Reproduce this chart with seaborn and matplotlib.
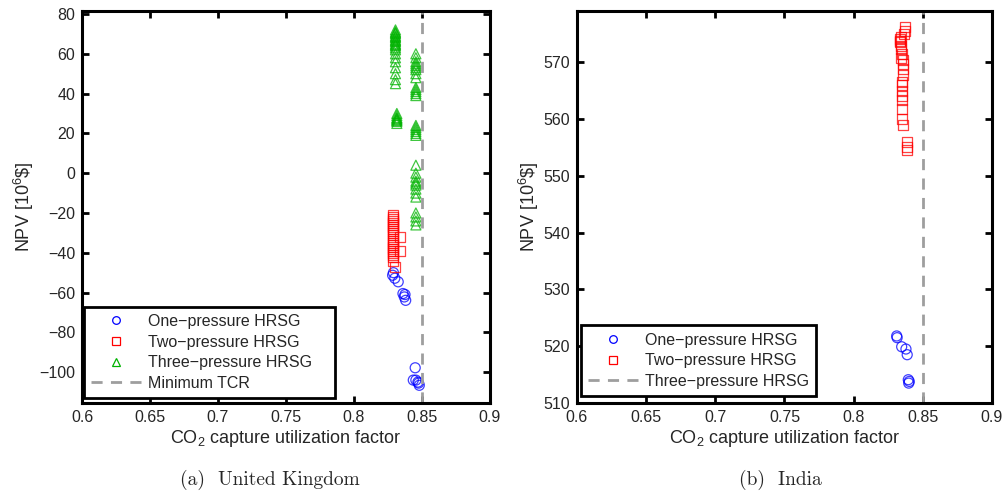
import numpy as np
import pandas as pd
import matplotlib
matplotlib.use("Agg")
import matplotlib.pyplot as plt
import seaborn as sns
from matplotlib.lines import Line2D

# ---------------- data ----------------
# United Kingdom
uk_one_x = [0.8284, 0.8300, 0.8325, 0.8290, 0.8360, 0.8370, 0.8380, 0.8375,
            0.8450, 0.8436, 0.8455, 0.8470, 0.8480, 0.8475]
uk_one_y = [-51.3, -52.8, -54.6, -50.0, -60.5, -62.2, -63.9, -61.0,
            -97.8, -104.0, -104.0, -105.0, -106.6, -105.5]

uk_two_x = [0.8285] * 22 + [0.8340, 0.8340, 0.8305]
uk_two_y = [-21, -22, -23, -24, -25, -26, -27, -28, -29, -30, -31, -33,
            -34, -35, -36, -37, -38, -39, -40, -41, -42, -44,
            -32, -39, -47]

uk_three_x = [0.8305] * 22 + [0.8315] * 8 + [0.8455] * 33
uk_three_y = [72, 71, 70.5, 70, 69, 68.5, 68, 67, 66.5, 66, 65, 64.5, 64, 63,
              62, 60, 58, 56, 53, 50, 47, 45,
              30, 29, 28, 27.5, 27, 26.5, 26, 25,
              60, 58, 56, 55, 54, 53, 52, 50, 48, 43, 42, 41, 40, 39,
              24, 23, 22, 21, 20, 19, 4, 0, -2, -4, -5, -6, -8, -10, -12,
              -20, -22, -24, -26]

# India
in_one_x = [0.8311, 0.8314, 0.8347, 0.8378, 0.8387, 0.8395, 0.8402, 0.8398]
in_one_y = [521.8, 521.5, 519.9, 519.5, 518.5, 514.1, 513.8, 513.5]

in_two_x = [0.8371, 0.8371, 0.8365, 0.8335, 0.8335, 0.8342, 0.8345, 0.8352,
            0.8356, 0.8360, 0.8360, 0.8356, 0.8352, 0.8352, 0.8352, 0.8352,
            0.8352, 0.8352, 0.8352, 0.8360, 0.8385, 0.8385, 0.8385, 0.8340,
            0.8338, 0.8345]
in_two_y = [576.1, 575.5, 575.0, 574.1, 573.5, 572.9, 572.4, 571.5,
            570.3, 569.7, 568.8, 567.7, 566.5, 565.0, 564.1, 563.3,
            561.8, 560.0, 566.0, 558.9, 555.9, 555.1, 554.5, 574.5,
            573.8, 570.8]

tcr = 0.85
xticks = [0.6, 0.65, 0.7, 0.75, 0.8, 0.85, 0.9]
xticklabels = ["0.6", "0.65", "0.7", "0.75", "0.8", "0.85", "0.9"]
uk_yticks = [-100, -80, -60, -40, -20, 0, 20, 40, 60, 80]
in_yticks = [510, 520, 530, 540, 550, 560, 570]

labels = ["One\u2212pressure HRSG", "Two\u2212pressure HRSG", "Three\u2212pressure HRSG"]

# ---------------- style ----------------
sns.set_style("white")
plt.rcParams["font.family"] = ["Liberation Sans", "DejaVu Sans"]
plt.rcParams["mathtext.fontset"] = "custom"
plt.rcParams["mathtext.rm"] = "Liberation Sans"
plt.rcParams["mathtext.it"] = "Liberation Sans:italic"

BLUE = (0, 0, 1)
RED = (1, 0, 0)
GREEN = (0, 0.7, 0)
GRAY = (0.62, 0.62, 0.62)

fig = plt.figure(figsize=(10.03, 4.92), dpi=100)
axL = fig.add_axes([82 / 1003, 1 - 403 / 492, 408 / 1003, 392 / 492])
axR = fig.add_axes([577 / 1003, 1 - 403 / 492, 415 / 1003, 392 / 492])


def scatter(ax, xs, ys, marker, color, label):
    df = pd.DataFrame({"x": xs, "y": ys})
    sns.scatterplot(data=df, x="x", y="y", ax=ax, marker=marker, s=52,
                    facecolor="none", edgecolor=color, linewidth=0.9,
                    alpha=0.75, label=label, legend=False)


scatter(axL, uk_one_x, uk_one_y, "o", BLUE, labels[0])
scatter(axL, uk_two_x, uk_two_y, "s", RED, labels[1])
scatter(axL, uk_three_x, uk_three_y, "^", GREEN, labels[2])
axL.axvline(tcr, color=GRAY, ls=(0, (4, 3)), lw=2)

scatter(axR, in_one_x, in_one_y, "o", BLUE, labels[0])
scatter(axR, in_two_x, in_two_y, "s", RED, labels[1])
axR.axvline(tcr, color=GRAY, ls=(0, (4, 3)), lw=2)

axL.set_xlim(0.6, 0.9)
axL.set_ylim(-115.5, 81.5)
axL.set_yticks(uk_yticks)
axR.set_xlim(0.6, 0.9)
axR.set_ylim(510, 579)
axR.set_yticks(in_yticks)

for ax in (axL, axR):
    ax.set_xticks(xticks)
    ax.set_xticklabels(xticklabels)
    ax.tick_params(direction="in", length=5, width=2, top=True, right=True,
                   bottom=True, left=True, labelsize=11.5, pad=5, color="black")
    for sp in ax.spines.values():
        sp.set_visible(True)
        sp.set_color("black")
        sp.set_linewidth(2.2)
    ax.set_xlabel("CO$_2$ capture utilization factor", fontsize=13, labelpad=2)
    ax.set_ylabel("NPV [10$^6$\\$]", fontsize=13, labelpad=2)


def handle(marker, color):
    return Line2D([], [], ls="none", marker=marker, markersize=5.5,
                  markerfacecolor="none", markeredgecolor=color, markeredgewidth=0.9)


dash = Line2D([], [], color=GRAY, ls=(0, (4, 3)), lw=2)

leg_kw = dict(loc="lower left", borderaxespad=0, fontsize=11.5,
              frameon=True, fancybox=False, framealpha=1, edgecolor="black",
              handlelength=3.1, handletextpad=0.45, labelspacing=0.35,
              borderpad=0.45)

pad = "\u2003"
legL = axL.legend([handle("o", BLUE), handle("s", RED), handle("^", GREEN), dash],
                  [l + pad for l in labels] + ["Minimum TCR"],
                  bbox_to_anchor=(0.005, 0.013), **leg_kw)
legL.get_frame().set_linewidth(2)

legR = axR.legend([handle("o", BLUE), handle("s", RED), dash],
                  labels, bbox_to_anchor=(0.0096, 0.018), **leg_kw)
legR.get_frame().set_linewidth(2)

fig.text(270 / 1003, 1 - 480 / 492, "(a)  United Kingdom", family="cmr10",
         fontsize=14, ha="center", va="center")
fig.text(780 / 1003, 1 - 480 / 492, "(b)  India", family="cmr10",
         fontsize=14, ha="center", va="center")

fig.savefig("out.png", dpi=100)
